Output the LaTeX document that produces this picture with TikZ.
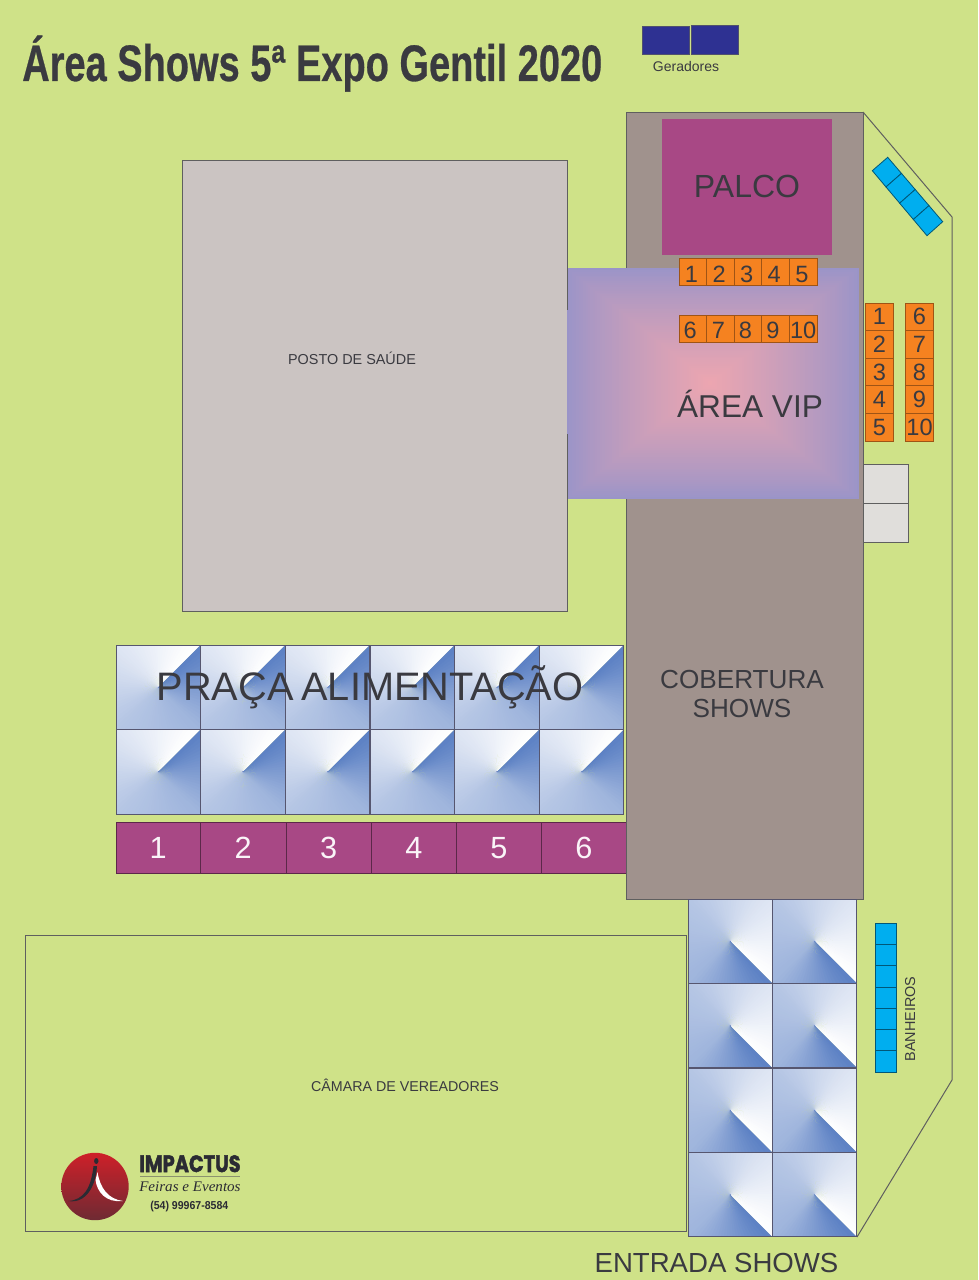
\documentclass[tikz,border=0pt]{standalone}
\usepackage{fontspec}
\usepackage{graphicx}
\setmainfont{Liberation Sans}
\newfontfamily\serifit{Liberation Serif}
\newfontfamily\impfont[FakeBold=2]{Poppins}
\newfontfamily\titlefont[FakeBold=0.6]{Liberation Sans}
\definecolor{bggreen}{HTML}{CFE288}
\definecolor{coverg}{HTML}{A0928D}
\definecolor{postog}{HTML}{CBC4C2}
\definecolor{palcop}{HTML}{A84885}
\definecolor{orangec}{HTML}{F58220}
\definecolor{cyanb}{HTML}{00AEEF}
\definecolor{navyb}{HTML}{2E3192}
\definecolor{lightg}{HTML}{E0DEDB}
\definecolor{linec}{HTML}{5F5F5F}
\definecolor{inkc}{HTML}{3A3A40}
\definecolor{tentblue}{HTML}{5B80C4}
\definecolor{vipout}{HTML}{9A94C8}
\definecolor{vipin}{HTML}{EDA6B0}
\definecolor{logotop}{HTML}{CE2029}
\definecolor{logobot}{HTML}{6E2A33}
\definecolor{logoink}{HTML}{2B2B33}
\tikzset{
  plainbox/.style={draw=linec,line width=0.7pt},
  lbl/.style={text=inkc,inner sep=0pt,anchor=base},
  cell/.style={draw=#1,line width=0.7pt,inner sep=0pt,anchor=center},
  orangecell/.style={cell=black!35!orangec,fill=orangec,minimum width=20.7pt,minimum height=20.7pt,
     text=inkc,font=\fontsize{17.7}{17.7}\selectfont},
  rowa/.style={text height=15.8pt,text depth=0pt},
  rowb/.style={text height=14.2pt,text depth=0pt},
  purplecell/.style={cell=black!45!palcop,fill=palcop,minimum height=38.2pt,
     text=white!94!palcop,font=\fontsize{23}{23}\selectfont},
  cyancell/.style={draw=black!50!cyanb,fill=cyanb,line width=0.6pt}
}
\newcommand{\tentsq}[4]{% x y size startangle (flipped axes)
  \begin{scope}
    \clip (#1,#2) rectangle ++(#3,#3);
    \coordinate (tc) at ({#1+#3/2},{#2+#3/2});
    \foreach \i in {0,...,89}{%
      \pgfmathsetmacro\tt{\i/90}%
      \pgfmathsetmacro\mixv{100*(\tt<.25 ? .8*\tt : (\tt<.5 ? .20+1.0*(\tt-.25) : (\tt<.75 ? .45+.52*(\tt-.5) : .58+1.68*(\tt-.75))))}%
      \pgfmathsetmacro\aone{#4-\i*4+(\i>0 ? 1.5 : 0)}%
      \pgfmathsetmacro\atwo{#4-\i*4-4}%
      \fill[tentblue!\mixv!white] (tc) -- ++(\aone:{#3*1.2}) -- ($(tc)+(\atwo:{#3*1.2})$) -- cycle;
    }
  \end{scope}
  \draw[draw=linec!90!blue,line width=0.7pt] (#1,#2) rectangle ++(#3,#3);
}
\usetikzlibrary{calc}
\begin{document}
\begin{tikzpicture}[x=0.75pt,y=-0.75pt]
\useasboundingbox (0,0) rectangle (978,1280);
\fill[bggreen] (0,0) rectangle (978,1280);

% title
\node[lbl,anchor=base west] (title) at (22,81)
  {\resizebox{435pt}{\height}{\titlefont\fontsize{38.5}{38.5}\selectfont\bfseries Área Shows 5ª Expo Gentil 2020}};

% generators
\draw[draw=linec!70!navyb,fill=navyb,line width=0.7pt] (642,26) rectangle (689,54);
\draw[draw=linec!70!navyb,fill=navyb,line width=0.7pt] (691,25) rectangle (738,54);
\node[lbl,font=\fontsize{10.5}{10.5}\selectfont] (geradores) at (686,71.5) {Geradores};

% fence
\draw[linec,line width=0.75pt] (863,112) -- (952,217) -- (952,1080) -- (857,1237);

% health post
\fill[postog] (182,160) rectangle (567,611);
\draw[plainbox] (182,160) rectangle (567,611);
\node[lbl,font=\fontsize{10.8}{10.8}\selectfont] (posto) at (352,364) {POSTO DE SAÚDE};

% purple stalls
\foreach \n/\xa/\xb in {1/116/200.5,2/200.5/286,3/286/371.5,4/371.5/456.5,5/456.5/541.5,6/541.5/626.5}{%
  \pgfmathsetmacro\w{(\xb-\xa)*0.75}%
  \node[purplecell,minimum width=\w pt] (st\n) at ({(\xa+\xb)/2},848) {\n};
}

% covered area
\fill[coverg] (626.5,112) rectangle (863,899);
\draw[plainbox] (626.5,112) rectangle (863,899);
\fill[palcop] (662,119) rectangle (832,255);
\node[lbl,font=\fontsize{24}{24}\selectfont] (palco) at (747,198) {PALCO};

% VIP gradient
\foreach \k in {0,...,60}{%
  \pgfmathsetmacro\f{\k/61}%
  \pgfmathsetmacro\mixv{100*\f^0.85}%
  \fill[vipin!\mixv!vipout]
    ({567+(710-567)*\f},{268+(383-268)*\f}) rectangle ({859-(859-710)*\f},{499-(499-383)*\f});
}
\draw[linec,line width=0.7pt] (567,268) -- (567,310) (567,434) -- (567,499);
\node[lbl,font=\fontsize{23.7}{23.7}\selectfont] (vip) at (750,417) {ÁREA VIP};
\node[text=inkc,inner sep=0pt,align=center,font=\fontsize{19.6}{22}\selectfont] (cobertura) at (742,694) {COBERTURA\\SHOWS};

% orange chairs over the VIP
\foreach \n/\m in {1/0,2/1,3/2,4/3,5/4}{%
  \node[orangecell,rowa] (ta\n) at ({679+13.8+\m*27.6},272) {\n\kern 2pt\relax};
}
\foreach \n/\m/\g in {6/0/4pt,7/1/3pt,8/2/4pt,9/3/4pt,10/4/0pt}{%
  \node[orangecell,rowb] (tb\n) at ({679+13.8+\m*27.6},329) {\n\kern\g\relax};
}
\foreach \n/\m in {1/0,2/1,3/2,4/3,5/4}{%
  \node[orangecell] (ra\n) at (879.5,{316.8+\m*27.6}) {\n};
}
\foreach \n/\m in {6/0,7/1,8/2,9/3,10/4}{%
  \node[orangecell] (rb\n) at (919.5,{316.8+\m*27.6}) {\n};
}

% light grey boxes
\draw[plainbox,fill=lightg] (863,464) rectangle (908,503);
\draw[plainbox,fill=lightg] (863,503) rectangle (908,542);

% rotated cyan block
\coordinate (ca) at (872.3,170.7);
\coordinate (cb) at (887.7,157.3);
\coordinate (cc) at (942.7,221.7);
\coordinate (cd) at (927,235.7);
\foreach \s in {0,1,2,3}{%
  \pgfmathsetmacro\pa{\s/4}\pgfmathsetmacro\pb{(\s+1)/4}%
  \draw[cyancell] ($(ca)!\pa!(cd)$) -- ($(cb)!\pa!(cc)$) -- ($(cb)!\pb!(cc)$) -- ($(ca)!\pb!(cd)$) -- cycle;
}

% food court tents
\foreach \c in {0,...,5}{%
  \foreach \r in {0,1}{%
    \tentsq{116+\c*84.67}{645+\r*84.5}{84.6}{-45}
  }
}
\node[lbl,font=\fontsize{29.8}{29.8}\selectfont] (praca) at (370,700) {\spaceskip=.2em PRAÇA ALIMENTAÇÃO};

% town hall
\draw[plainbox] (25,935) rectangle (686,1231);
\node[lbl,font=\fontsize{10.7}{10.7}\selectfont] (camara) at (405,1091) {CÂMARA DE VEREADORES};

% entrance tents
\foreach \c in {0,1}{%
  \foreach \r in {0,1,2,3}{%
    \tentsq{688+\c*84.5}{899+\r*84.5}{84.4}{45}
  }
}
\node[lbl,font=\fontsize{20.7}{20.7}\selectfont] (entrada) at (716.5,1272) {ENTRADA SHOWS};

% toilets
\foreach \s in {0,...,6}{%
  \draw[cyancell] (875,{923+\s*21.3}) rectangle (896,{923+(\s+1)*21.3});
}
\node[lbl,rotate=90,anchor=base,font=\fontsize{10.8}{10.8}\selectfont] (banheiros) at (915,1019) {BANHEIROS};

% logo
\shade[top color=logotop,bottom color=logobot] (95,1186.5) circle (33.7);
\fill[logoink] (68,1201) .. controls (84,1200) and (91,1188) .. (93.5,1166) -- (97,1166)
   .. controls (96,1186) and (86,1204) .. (68,1201) -- cycle;
\fill[white] (97.5,1172) .. controls (100,1188) and (108,1199) .. (123,1201)
   .. controls (106,1203) and (97,1192) .. (95.5,1180) -- cycle;
\fill[logoink] (96.3,1161) ellipse (2.2 and 3);
\node[lbl,anchor=base west,text=logoink] (impactus) at (139,1172)
  {\resizebox{76pt}{12.6pt}{\impfont\bfseries IMPACTUS}};
\draw[linec!60!bggreen,line width=0.5pt] (140,1176) -- (240,1176);
\node[lbl,anchor=base west,text=logoink] (feiras) at (139,1191)
  {\resizebox{76pt}{\height}{\serifit\itshape\fontsize{11}{11}\selectfont Feiras e Eventos}};
\node[lbl,anchor=base west,text=logoink] (fone) at (150,1209)
  {\resizebox{58.5pt}{\height}{\fontsize{8.6}{8.6}\selectfont\bfseries (54) 99967-8584}};
\end{tikzpicture}
\end{document}
